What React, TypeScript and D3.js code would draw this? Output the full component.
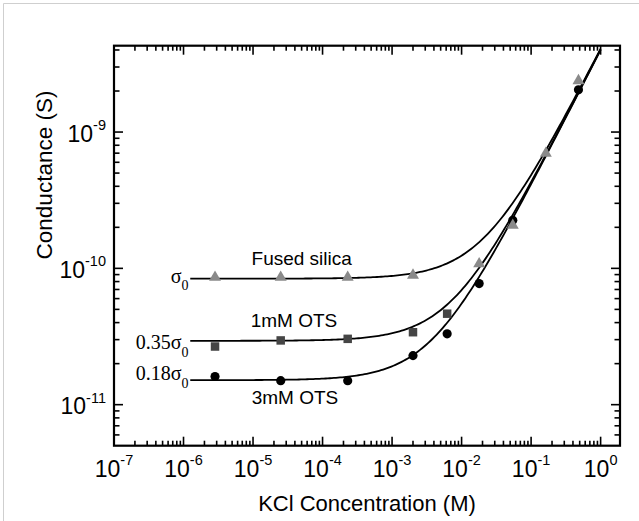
import React from "react";
import * as d3 from "d3";

// ---- data ----
const fusedConc = [2.84e-6, 2.5e-5, 2.3e-4, 2.0e-3, 1.79e-2, 5.45e-2, 0.163, 0.48];
const fusedG = [8.6e-11, 8.6e-11, 8.6e-11, 8.9e-11, 1.08e-10, 2.07e-10, 6.97e-10, 2.38e-9];

const ots1Conc = [2.84e-6, 2.5e-5, 2.3e-4, 2.0e-3, 6.2e-3];
const ots1G = [2.67e-11, 2.96e-11, 3.04e-11, 3.4e-11, 4.65e-11];

const ots3Conc = [2.84e-6, 2.5e-5, 2.3e-4, 2.0e-3, 6.2e-3, 1.79e-2, 5.45e-2, 0.48];
const ots3G = [1.61e-11, 1.5e-11, 1.5e-11, 2.29e-11, 3.31e-11, 7.73e-11, 2.25e-10, 2.04e-9];

// fit model: G = kBulk * c + factor * sigma0
const sigma0 = 8.4e-11;
const kBulk = 4.0e-9;
const fitFactors = [1, 0.35, 0.18];
const fitFactorLabels = ["", "0.35", "0.18"];
const fitStart = 1.25e-6;
const fitEnd = 1;

const xExponents = [-7, -6, -5, -4, -3, -2, -1, 0];
const yExponents = [-11, -10, -9];

const xDomain = [1e-7, 1.9];
const yDomain = [5e-12, 4.3e-9];

const curveLabels = ["Fused silica", "1mM OTS", "3mM OTS"];

export default function App() {
  const left = 114, right = 620, top = 45.7, bottom = 445.7;
  const x = d3.scaleLog().domain(xDomain).range([left, right]);
  const y = d3.scaleLog().domain(yDomain).range([bottom, top]);

  const xTicks = x.ticks();
  const yTicks = y.ticks();
  const isMajor = (v: number) => Math.abs(Math.log10(v) - Math.round(Math.log10(v))) < 1e-6;

  const nSamples = 200;
  const lg0 = Math.log10(fitStart), lg1 = Math.log10(fitEnd);
  const cs = d3.range(nSamples + 1).map((i) => Math.pow(10, lg0 + ((lg1 - lg0) * i) / nSamples));
  const line = d3
    .line<[number, number]>()
    .x((d) => x(d[0]))
    .y((d) => y(d[1]))
    .curve(d3.curveLinear);

  const tri = d3.symbol().type(d3.symbolTriangle).size(62)()!;
  const sq = d3.symbol().type(d3.symbolSquare).size(72)()!;
  const circ = d3.symbol().type(d3.symbolCircle).size(66)()!;

  const sans = "'Liberation Sans', Arial, Helvetica, sans-serif";
  const serif = "'Liberation Serif', 'Times New Roman', serif";

  const labelBaselines = [282.7, 349.3, 380];
  const curveLabelPos = [
    [301.7, 265],
    [294, 327.3],
    [295, 404],
  ];

  return (
    <svg
      width={639}
      height={521}
      style={{ position: "absolute", left: 0, top: 0, background: "#fff" }}
    >
      <rect x={0} y={0} width={639} height={521} fill="#fff" />
      <line x1={3.5} y1={3.5} x2={639} y2={3.5} stroke="#cfcfcf" strokeWidth={1} />
      <line x1={3.5} y1={3.5} x2={3.5} y2={521} stroke="#cfcfcf" strokeWidth={1} />

      {/* ticks x (bottom and top, inward) */}
      {xTicks.map((t, i) => {
        const len = isMajor(t) ? 9 : 5;
        const px = x(t);
        if (px < left + 0.5 || px > right - 0.5) return null;
        return (
          <g key={"xt" + i}>
            <line x1={px} x2={px} y1={bottom} y2={bottom - len} stroke="#000" strokeWidth={1.6} />
            <line x1={px} x2={px} y1={top} y2={top + len} stroke="#000" strokeWidth={1.6} />
          </g>
        );
      })}
      {yTicks.map((t, i) => {
        const len = isMajor(t) ? 9 : 5.5;
        const py = y(t);
        if (py > bottom - 0.5 || py < top + 0.5) return null;
        return (
          <g key={"yt" + i}>
            <line x1={left} x2={left + len} y1={py} y2={py} stroke="#000" strokeWidth={1.6} />
            <line x1={right} x2={right - len} y1={py} y2={py} stroke="#000" strokeWidth={1.6} />
          </g>
        );
      })}

      {/* frame */}
      <rect x={left} y={top} width={right - left} height={bottom - top} fill="none" stroke="#000" strokeWidth={2.2} />

      {/* x tick labels */}
      {xExponents.map((e) => (
        <text
          key={"xl" + e}
          x={x(Math.pow(10, e))}
          y={477}
          textAnchor="middle"
          fontFamily={sans}
          fontSize={23}
          fill="#000"
        >
          10
          <tspan fontSize={14.5} dy={-12}>
            {e}
          </tspan>
        </text>
      ))}
      {/* y tick labels */}
      {yExponents.map((e) => (
        <text
          key={"yl" + e}
          x={106}
          y={y(Math.pow(10, e)) + 9.6}
          textAnchor="end"
          fontFamily={sans}
          fontSize={23}
          fill="#000"
        >
          10
          <tspan fontSize={14.5} dy={-11.5}>
            {e}
          </tspan>
        </text>
      ))}

      {/* axis titles */}
      <text x={367} y={511} textAnchor="middle" fontFamily={sans} fontSize={22} fill="#000">
        KCl Concentration (M)
      </text>
      <text
        transform={`translate(52,175) rotate(-90)`}
        textAnchor="middle"
        fontFamily={sans}
        fontSize={22.5}
        fill="#000"
      >
        Conductance (S)
      </text>

      {/* fit curves */}
      {fitFactors.map((f, i) => (
        <path
          key={"fit" + i}
          d={line(cs.map((c) => [c, kBulk * c + f * sigma0] as [number, number]))!}
          fill="none"
          stroke="#000"
          strokeWidth={1.8}
        />
      ))}

      {/* markers */}
      {ots1Conc.map((c, i) => (
        <path key={"s" + i} d={sq} transform={`translate(${x(c)},${y(ots1G[i])})`} fill="#454545" />
      ))}
      {ots3Conc.map((c, i) => (
        <path key={"c" + i} d={circ} transform={`translate(${x(c)},${y(ots3G[i])})`} fill="#000" />
      ))}
      {fusedConc.map((c, i) => (
        <path key={"t" + i} d={tri} transform={`translate(${x(c)},${y(fusedG[i])})`} fill="#8a8a8a" />
      ))}

      {/* curve annotations */}
      {curveLabels.map((lab, i) => (
        <text
          key={"cl" + i}
          x={curveLabelPos[i][0]}
          y={curveLabelPos[i][1]}
          textAnchor="middle"
          fontFamily={sans}
          fontSize={19}
          fill="#000"
        >
          {lab}
        </text>
      ))}

      {/* plateau labels */}
      {fitFactorLabels.map((lab, i) => (
        <text
          key={"pl" + i}
          x={188.5}
          y={labelBaselines[i]}
          textAnchor="end"
          fontFamily={serif}
          fontSize={20}
          fill="#000"
        >
          {lab}σ
          <tspan fontSize={14} dy={7.5}>
            0
          </tspan>
        </text>
      ))}
    </svg>
  );
}
